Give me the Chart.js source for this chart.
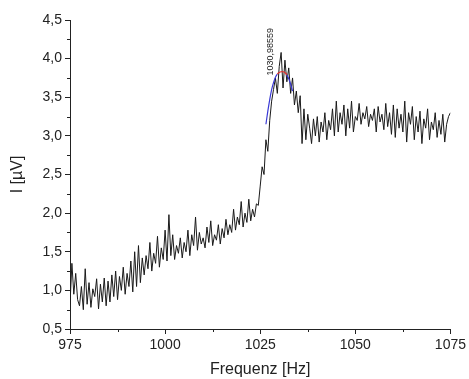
<!DOCTYPE html>
<html>
<head>
<meta charset="utf-8">
<script src="https://cdn.jsdelivr.net/npm/chart.js@4/dist/chart.umd.min.js"></script>
<style>
  html, body { margin: 0; padding: 0; background: #fff; }
  #wrap { width: 469px; height: 379px; }
</style>
</head>
<body>
<div id="wrap"><canvas id="chart"></canvas></div>
<script>
// --- Data ---
const freqStart = 975;
const freqStep = 0.5;

// measured signal, one value per 0.5 Hz, 975 .. 1075 Hz
const signal = [
  // 975 - 984.5
  0.82, 1.35, 0.95, 1.22, 0.88, 0.80, 1.05, 0.75, 1.28, 0.82, 1.10, 0.78, 1.02, 0.92, 1.15, 0.76, 1.08, 0.85, 1.16, 0.80,
  // 985 - 994.5
  1.12, 0.85, 1.20, 0.92, 1.25, 0.88, 1.18, 1.00, 1.30, 0.95, 1.22, 1.05, 1.38, 0.98, 1.50, 1.05, 1.58, 1.10, 1.42, 1.20,
  // 995 - 1004.5
  1.45, 1.28, 1.62, 1.25, 1.48, 1.35, 1.70, 1.30, 1.55, 1.40, 1.78, 1.38, 1.98, 1.45, 1.72, 1.40, 1.58, 1.48, 1.68, 1.42,
  // 1005 - 1014.5
  1.62, 1.50, 1.78, 1.45, 1.72, 1.58, 1.95, 1.52, 1.75, 1.60, 1.68, 1.55, 1.82, 1.62, 1.90, 1.58, 1.72, 1.65, 1.85, 1.60,
  // 1015 - 1024.5
  1.80, 1.68, 1.92, 1.72, 1.85, 1.75, 2.05, 1.78, 1.95, 1.85, 2.15, 1.82, 2.00, 1.88, 2.18, 1.90, 2.05, 1.95, 2.12, 2.10,
  // 1025 - 1034.5
  2.35, 2.60, 2.50, 2.95, 2.80, 3.20, 3.45, 3.60, 3.75, 3.55, 3.90, 4.08, 3.62, 3.98, 3.70, 3.88, 3.55, 3.75, 3.40, 3.58,
  // 1035 - 1044.5
  3.30, 3.52, 2.90, 3.35, 2.95, 3.28, 3.10, 2.90, 3.22, 3.00, 3.25, 2.92, 3.18, 3.05, 3.30, 2.95, 3.20, 3.08, 3.35, 3.00,
  // 1045 - 1054.5
  3.45, 3.05, 3.30, 3.15, 3.40, 3.00, 3.35, 3.10, 3.45, 3.05, 3.25, 3.20, 3.42, 3.15, 3.30, 3.22, 3.38, 3.12, 3.28, 3.20,
  // 1055 - 1064.5
  3.35, 3.05, 3.38, 3.18, 3.28, 3.08, 3.42, 3.12, 3.30, 3.02, 3.40, 2.98, 3.35, 3.10, 3.28, 3.05, 3.45, 2.92, 3.30, 3.15,
  // 1065 - 1075
  3.38, 2.95, 3.25, 3.05, 3.32, 2.90, 3.22, 3.10, 3.35, 2.95, 3.18, 3.08, 3.30, 2.98, 3.20, 3.02, 3.28, 2.92, 3.15, 3.25, 3.30
];

// peak fit curve
const fitFreq = [1026.5, 1027, 1027.5, 1028, 1028.5, 1029, 1029.5, 1030, 1030.5, 1031, 1031.5, 1032, 1032.5, 1033, 1033.5];
const fitValue = [3.15, 3.32, 3.47, 3.60, 3.69, 3.76, 3.80, 3.82, 3.83, 3.83, 3.82, 3.79, 3.74, 3.67, 3.58];
const fitRedFrom = 1029.5;
const fitRedTo = 1032;

const peakLabel = '1030,98559';
const peakLabelAt = { x: 1027.7, y: 3.78 };

const xTicks = [975, 1000, 1025, 1050, 1075];
const yTicks = [0.5, 1.0, 1.5, 2.0, 2.5, 3.0, 3.5, 4.0, 4.5];
const xMinor = [987.5, 1012.5, 1037.5, 1062.5];
const yMinor = [0.75, 1.25, 1.75, 2.25, 2.75, 3.25, 3.75, 4.25];

// --- Helpers ---
function getEl(id) {
  return document.getElementById(id);
}
function fmt(v) {
  return v.toFixed(1).replace('.', ',');
}

const FONT = "'Liberation Sans', Arial, sans-serif";
const INK = '#222';
const BLUE = '#3a3ad6';
const RED = '#e03030';

// minor ticks + rotated peak label
const extrasPlugin = {
  id: 'extras',
  afterDraw(chart) {
    const { ctx, scales: { x, y }, chartArea } = chart;
    ctx.save();
    ctx.strokeStyle = INK;
    ctx.lineWidth = 1;
    ctx.beginPath();
    xMinor.forEach(v => {
      const px = Math.round(x.getPixelForValue(v)) + 0.5;
      ctx.moveTo(px, chartArea.bottom);
      ctx.lineTo(px, chartArea.bottom + 3);
    });
    yMinor.forEach(v => {
      const py = Math.round(y.getPixelForValue(v)) + 0.5;
      ctx.moveTo(chartArea.left, py);
      ctx.lineTo(chartArea.left - 3, py);
    });
    ctx.stroke();

    const lx = x.getPixelForValue(peakLabelAt.x);
    const ly = y.getPixelForValue(peakLabelAt.y);
    ctx.translate(lx, ly);
    ctx.rotate(-Math.PI / 2);
    ctx.font = `9px ${FONT}`;
    ctx.fillStyle = INK;
    ctx.textAlign = 'left';
    ctx.textBaseline = 'middle';
    ctx.fillText(peakLabel, 0, 0);
    ctx.restore();
  }
};

// --- Chart setup ---
function initChart() {
  const points = signal.map((v, i) => ({ x: freqStart + i * freqStep, y: v }));
  const fit = fitFreq.map((f, i) => ({ x: f, y: fitValue[i] }));

  new Chart(getEl('chart').getContext('2d'), {
    type: 'line',
    data: {
      datasets: [
        {
          data: points,
          order: 1,
          borderColor: '#1a1a1a',
          borderWidth: 1,
          pointRadius: 0,
          tension: 0
        },
        {
          data: fit,
          order: 0,
          borderWidth: 1.2,
          pointRadius: 0,
          tension: 0.3,
          borderColor: BLUE,
          segment: {
            borderColor: c => (c.p0.parsed.x >= fitRedFrom && c.p1.parsed.x <= fitRedTo) ? RED : BLUE
          }
        }
      ]
    },
    options: {
      responsive: true,
      maintainAspectRatio: false,
      animation: false,
      layout: { padding: { top: 20, right: 15, left: 0, bottom: 0 } },
      plugins: { legend: { display: false }, tooltip: { enabled: false } },
      scales: {
        x: {
          type: 'linear',
          min: 975,
          max: 1075,
          afterBuildTicks: s => { s.ticks = xTicks.map(v => ({ value: v })); },
          afterFit: s => { s.height = 50; },
          grid: { drawOnChartArea: false, tickLength: 5, color: INK },
          border: { color: INK, width: 1 },
          ticks: { color: INK, font: { family: FONT, size: 14 }, padding: 3, maxRotation: 0, callback: v => String(v) },
          title: {
            display: true,
            text: 'Frequenz [Hz]',
            color: INK,
            font: { family: FONT, size: 16 },
            padding: { top: 0, bottom: 0 }
          }
        },
        y: {
          min: 0.5,
          max: 4.5,
          afterBuildTicks: s => { s.ticks = yTicks.map(v => ({ value: v })); },
          afterFit: s => { s.width = 70; },
          grid: { drawOnChartArea: false, tickLength: 5, color: INK },
          border: { color: INK, width: 1 },
          ticks: { color: INK, font: { family: FONT, size: 14 }, padding: 3, callback: v => fmt(v) },
          title: {
            display: true,
            text: 'I [µV]',
            color: INK,
            font: { family: FONT, size: 16 },
            padding: { top: 8, bottom: 0 }
          }
        }
      }
    },
    plugins: [extrasPlugin]
  });
}

// --- Init ---
document.addEventListener('DOMContentLoaded', initChart);
</script>
</body>
</html>
